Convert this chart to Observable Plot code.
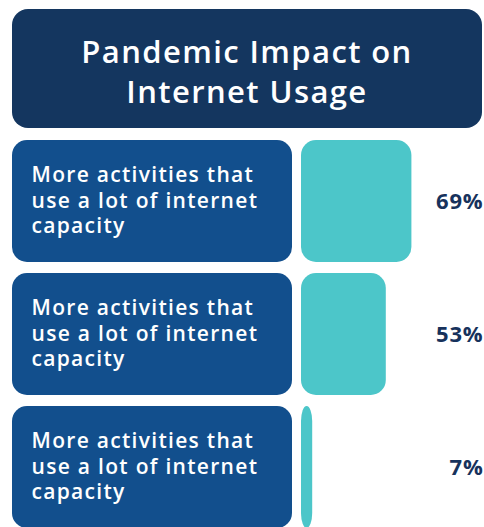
<!DOCTYPE html>
<html>
<head>
<meta charset="utf-8">
<script src="https://cdn.jsdelivr.net/npm/d3@7"></script>
<script src="https://cdn.jsdelivr.net/npm/@observablehq/plot@0.6"></script>
<style>
  body { margin: 0; background: #fff; font-family: "Open Sans", sans-serif; }
  #wrap { position: relative; width: 484px; height: 527px; overflow: hidden; }
  #title {
    position: absolute; left: 12px; top: 9px; width: 470px; height: 119px;
    background: #14365f; border-radius: 16px; color: #fff;
    display: flex; flex-direction: column; align-items: center; justify-content: center; text-align: center;
    font-size: 31px; font-weight: 600; letter-spacing: 1.4px; padding-top: 2px; box-sizing: border-box;
  }
  #title div { line-height: 42px; height: 40px; }
  #chart { position: absolute; left: 0; top: 130px; }
</style>
</head>
<body>
<div id="wrap">
  <div id="title"></div>
  <div id="chart"></div>
</div>
<script>
const titleLines = ["Pandemic Impact on", "Internet Usage"];
const labels = [
  "More activities that\nuse a lot of internet\ncapacity",
  "More activities that\nuse a lot of internet\ncapacity",
  "More activities that\nuse a lot of internet\ncapacity"
];
const values = [69, 53, 7];
const valueLabels = ["69%", "53%", "7%"];

const titleEl = document.getElementById("title");
titleLines.forEach(t => { const d = document.createElement("div"); d.textContent = t; titleEl.appendChild(d); });

const rows = labels.map((label, i) => ({id: i, label, value: values[i], valueLabel: valueLabels[i]}));

const chart = Plot.plot({
  width: 484,
  height: 397,
  margin: 0,
  style: {fontFamily: "'Open Sans', sans-serif", background: "transparent"},
  x: {domain: [0, 100], range: [301, 461], axis: null},
  y: {domain: rows.map(d => d.id), range: [9, 400], paddingInner: 0.082, paddingOuter: 0, axis: null},
  marks: [
    Plot.cell(rows, {y: "id", fill: "#124f8d", rx: 15, insetLeft: 12, insetRight: 192}),
    Plot.barX(rows, {y: "id", x: "value", fill: "#4cc6c9", rx: 15}),
    Plot.text(rows, {y: "id", text: "label", frameAnchor: "left", textAnchor: "start", dx: 31, dy: -2,
      fill: "#fff", fontSize: 21, fontWeight: 600, lineHeight: 1.22, style: "letter-spacing:1.3px"}),
    Plot.text(rows, {y: "id", text: "valueLabel", frameAnchor: "right", textAnchor: "end", dx: -1, dy: 0,
      fill: "#17325c", fontSize: 22, fontWeight: 700})
  ]
});
chart.querySelectorAll("g[aria-label='text']").forEach((g, i) => {
  if (i === 0) g.setAttribute("letter-spacing", "1.3px");
  else g.setAttribute("letter-spacing", "0.8px");
});
document.getElementById("chart").appendChild(chart);
</script>
</body>
</html>
